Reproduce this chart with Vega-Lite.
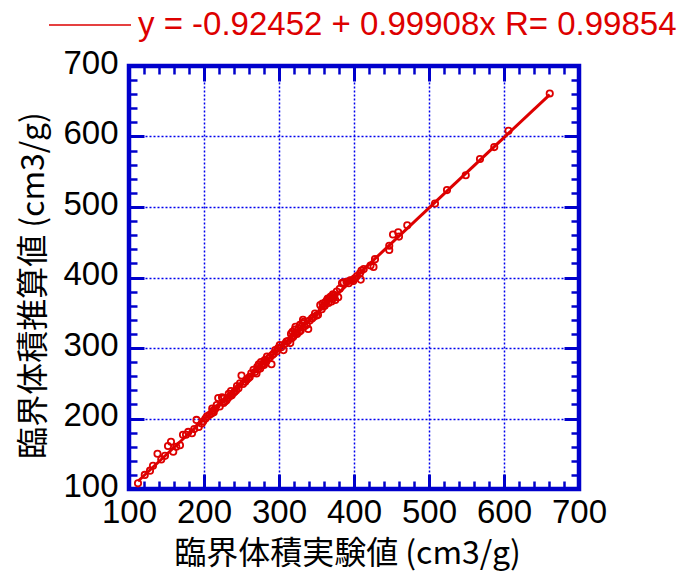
{
  "$schema": "https://vega.github.io/schema/vega-lite/v6.json",
  "width": 450,
  "height": 423,
  "autosize": "none",
  "padding": {"left": 129, "top": 66, "right": 99, "bottom": 85},
  "background": "white",
  "config": {
    "view": {"stroke": "#0000cc", "strokeWidth": 4.5},
    "axis": {"domain": false, "tickColor": "#0000cc", "labelColor": "black", "titleColor": "black"}
  },
  "layer": [
    {
      "data": {"values": [
        {"exp":112,"calc":108},{"exp":121,"calc":120},{"exp":128,"calc":126},{"exp":132,"calc":133},{"exp":138,"calc":150},{"exp":143,"calc":142},{"exp":148,"calc":147},{"exp":152,"calc":161},{"exp":156,"calc":167},{"exp":159,"calc":153},{"exp":163,"calc":160},{"exp":168,"calc":162},{"exp":172,"calc":177},{"exp":176,"calc":177},{"exp":179,"calc":181},{"exp":184,"calc":179},{"exp":187,"calc":185},{"exp":190,"calc":198},{"exp":193,"calc":188},{"exp":197,"calc":193},{"exp":199,"calc":196},{"exp":202,"calc":200},{"exp":204,"calc":203},{"exp":207,"calc":205},{"exp":210,"calc":207},{"exp":211,"calc":214},{"exp":212,"calc":211},{"exp":213,"calc":209},{"exp":215,"calc":214},{"exp":217,"calc":219},{"exp":219,"calc":229},{"exp":221,"calc":217},{"exp":224,"calc":230},{"exp":225,"calc":228},{"exp":226,"calc":222},{"exp":228,"calc":224},{"exp":230,"calc":226},{"exp":232,"calc":229},{"exp":233,"calc":235},{"exp":235,"calc":232},{"exp":236,"calc":239},{"exp":237,"calc":233},{"exp":239,"calc":236},{"exp":241,"calc":238},{"exp":243,"calc":240},{"exp":244,"calc":246},{"exp":246,"calc":243},{"exp":248,"calc":250},{"exp":250,"calc":261},{"exp":252,"calc":249},{"exp":255,"calc":252},{"exp":257,"calc":255},{"exp":259,"calc":257},{"exp":261,"calc":259},{"exp":263,"calc":264},{"exp":266,"calc":269},{"exp":268,"calc":266},{"exp":270,"calc":264},{"exp":271,"calc":273},{"exp":272,"calc":270},{"exp":273,"calc":277},{"exp":275,"calc":271},{"exp":276,"calc":280},{"exp":277,"calc":275},{"exp":279,"calc":278},{"exp":280,"calc":276},{"exp":281,"calc":283},{"exp":283,"calc":281},{"exp":284,"calc":288},{"exp":286,"calc":285},{"exp":288,"calc":287},{"exp":290,"calc":277},{"exp":291,"calc":290},{"exp":293,"calc":292},{"exp":295,"calc":297},{"exp":297,"calc":295},{"exp":299,"calc":300},{"exp":301,"calc":304},{"exp":303,"calc":301},{"exp":306,"calc":297},{"exp":308,"calc":306},{"exp":310,"calc":309},{"exp":312,"calc":310},{"exp":315,"calc":307},{"exp":316,"calc":320},{"exp":317,"calc":314},{"exp":318,"calc":323},{"exp":319,"calc":316},{"exp":320,"calc":318},{"exp":321,"calc":326},{"exp":322,"calc":330},{"exp":323,"calc":322},{"exp":324,"calc":320},{"exp":326,"calc":328},{"exp":327,"calc":323},{"exp":328,"calc":333},{"exp":329,"calc":325},{"exp":331,"calc":335},{"exp":332,"calc":340},{"exp":333,"calc":337},{"exp":334,"calc":331},{"exp":337,"calc":333},{"exp":339,"calc":327},{"exp":341,"calc":339},{"exp":344,"calc":342},{"exp":346,"calc":344},{"exp":348,"calc":349},{"exp":350,"calc":346},{"exp":352,"calc":347},{"exp":355,"calc":361},{"exp":357,"calc":355},{"exp":358,"calc":363},{"exp":359,"calc":359},{"exp":361,"calc":360},{"exp":362,"calc":365},{"exp":364,"calc":368},{"exp":365,"calc":370},{"exp":366,"calc":364},{"exp":368,"calc":371},{"exp":369,"calc":373},{"exp":370,"calc":366},{"exp":372,"calc":376},{"exp":373,"calc":371},{"exp":374,"calc":375},{"exp":375,"calc":368},{"exp":377,"calc":380},{"exp":379,"calc":372},{"exp":381,"calc":384},{"exp":384,"calc":392},{"exp":386,"calc":393},{"exp":390,"calc":394},{"exp":393,"calc":392},{"exp":395,"calc":396},{"exp":397,"calc":396},{"exp":399,"calc":395},{"exp":401,"calc":399},{"exp":404,"calc":402},{"exp":408,"calc":406},{"exp":409,"calc":397},{"exp":410,"calc":410},{"exp":413,"calc":412},{"exp":422,"calc":417},{"exp":426,"calc":415},{"exp":428,"calc":426},{"exp":447,"calc":439},{"exp":447,"calc":445},{"exp":452,"calc":461},{"exp":459,"calc":464},{"exp":460,"calc":458},{"exp":471,"calc":474},{"exp":508,"calc":505},{"exp":524,"calc":524},{"exp":549,"calc":545},{"exp":568,"calc":568},{"exp":587,"calc":585},{"exp":606,"calc":608},{"exp":661,"calc":661}
      ]},
      "mark": {"type": "point", "shape": "circle", "filled": false, "color": "#dd0000", "size": 40, "strokeWidth": 1.8, "opacity": 1},
      "encoding": {
        "x": {
          "field": "exp", "type": "quantitative",
          "scale": {"domain": [100, 700], "nice": false, "zero": false},
          "axis": {
            "orient": "bottom",
            "values": [100,120,140,160,180,200,220,240,260,280,300,320,340,360,380,400,420,440,460,480,500,520,540,560,580,600,620,640,660,680,700],
            "labelExpr": "datum.value % 100 === 0 ? datum.label : ''",
            "labelOverlap": false, "labelFlush": false,
            "tickSize": {"condition": {"test": "datum.value % 100 === 0", "value": -15}, "value": -8},
            "tickWidth": {"condition": {"test": "datum.value % 100 === 0", "value": 3}, "value": 2.5},
            "grid": true, "gridColor": "#0000ee", "gridDash": [2, 2], "gridWidth": 1.5,
            "gridOpacity": {"condition": {"test": "datum.value % 100 === 0 && datum.value > 100 && datum.value < 700", "value": 1}, "value": 0},
            "labelFont": "Liberation Sans", "labelFontSize": 33, "labelPadding": 22,
            "title": "臨界体積実験値 (cm3/g)", "titleFont": "Noto Sans CJK JP", "titleFontSize": 32, "titleFontWeight": "normal", "titlePadding": 2, "titleX": 218
          }
        },
        "y": {
          "field": "calc", "type": "quantitative",
          "scale": {"domain": [100, 700], "nice": false, "zero": false},
          "axis": {
            "orient": "left",
            "values": [100,120,140,160,180,200,220,240,260,280,300,320,340,360,380,400,420,440,460,480,500,520,540,560,580,600,620,640,660,680,700],
            "labelExpr": "datum.value % 100 === 0 ? datum.label : ''",
            "labelOverlap": false, "labelFlush": false,
            "tickSize": {"condition": {"test": "datum.value % 100 === 0", "value": -15}, "value": -8},
            "tickWidth": {"condition": {"test": "datum.value % 100 === 0", "value": 3}, "value": 2.5},
            "grid": true, "gridColor": "#0000ee", "gridDash": [2, 2], "gridWidth": 1.5,
            "gridOpacity": {"condition": {"test": "datum.value % 100 === 0 && datum.value > 100 && datum.value < 700", "value": 1}, "value": 0},
            "labelFont": "Liberation Sans", "labelFontSize": 33, "labelPadding": 26, "labelOffset": -3,
            "title": "臨界体積推算値 (cm3/g)", "titleFont": "Noto Sans CJK JP", "titleFontSize": 32, "titleFontWeight": "normal", "titlePadding": 12, "titleY": 219
          }
        }
      }
    },
    {
      "data": {"values": [
        {"exp": 112, "calc": 110.97, "label": "y = -0.92452 + 0.99908x R= 0.99854"},
        {"exp": 661, "calc": 659.47, "label": "y = -0.92452 + 0.99908x R= 0.99854"}
      ]},
      "mark": {"type": "line", "strokeWidth": 3},
      "encoding": {
        "x": {
          "field": "exp", "type": "quantitative",
          "axis": {
            "orient": "top",
            "values": [100,120,140,160,180,200,220,240,260,280,300,320,340,360,380,400,420,440,460,480,500,520,540,560,580,600,620,640,660,680,700],
            "labels": false, "grid": false, "title": null,
            "tickSize": {"condition": {"test": "datum.value % 100 === 0", "value": -15}, "value": -8},
            "tickWidth": {"condition": {"test": "datum.value % 100 === 0", "value": 3}, "value": 2.5}
          }
        },
        "y": {
          "field": "calc", "type": "quantitative",
          "axis": {
            "orient": "right",
            "values": [100,120,140,160,180,200,220,240,260,280,300,320,340,360,380,400,420,440,460,480,500,520,540,560,580,600,620,640,660,680,700],
            "labels": false, "grid": false, "title": null,
            "tickSize": {"condition": {"test": "datum.value % 100 === 0", "value": -15}, "value": -8},
            "tickWidth": {"condition": {"test": "datum.value % 100 === 0", "value": 3}, "value": 2.5}
          }
        },
        "color": {
          "field": "label", "type": "nominal",
          "scale": {"range": ["#dd0000"]},
          "legend": {
            "orient": "none", "legendX": -81, "legendY": -83,
            "title": null, "symbolType": "stroke", "symbolSize": 6724, "symbolStrokeWidth": 1.5,
            "labelFont": "Liberation Sans", "labelFontSize": 33, "labelColor": "#dd0000", "labelLimit": 0, "labelOffset": 6
          }
        }
      }
    }
  ],
  "resolve": {"axis": {"x": "independent", "y": "independent"}}
}
